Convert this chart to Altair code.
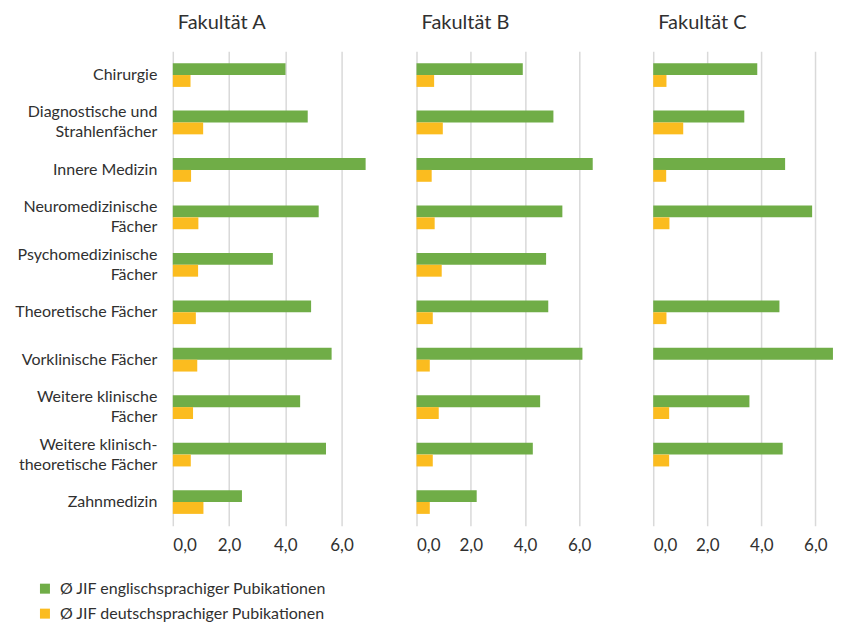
import altair as alt
import pandas as pd

categories = [
    "Chirurgie",
    "Diagnostische und\nStrahlenfächer",
    "Innere Medizin",
    "Neuromedizinische\nFächer",
    "Psychomedizinische\nFächer",
    "Theoretische Fächer",
    "Vorklinische Fächer",
    "Weitere klinische\nFächer",
    "Weitere klinisch-\ntheoretische Fächer",
    "Zahnmedizin",
]
series = ["Ø JIF englischsprachiger Pubikationen", "Ø JIF deutschsprachiger Pubikationen"]
faculties = ["Fakultät A", "Fakultät B", "Fakultät C"]

eng_A = [4.01, 4.80, 6.86, 5.19, 3.56, 4.92, 5.65, 4.53, 5.45, 2.46]
deu_A = [0.63, 1.08, 0.65, 0.91, 0.90, 0.82, 0.87, 0.72, 0.64, 1.09]
eng_B = [3.92, 5.05, 6.50, 5.38, 4.78, 4.86, 6.12, 4.56, 4.29, 2.22]
deu_B = [0.65, 0.97, 0.56, 0.67, 0.93, 0.60, 0.49, 0.82, 0.60, 0.49]
eng_C = [3.85, 3.37, 4.88, 5.88, None, 4.67, 6.65, 3.56, 4.79, None]
deu_C = [0.49, 1.11, 0.48, 0.60, None, 0.49, None, 0.59, 0.59, None]

colors = ["#70AD47", "#FBBC1F"]
FONT = "Lato"
TXT = "#303030"

rows = []
for fac, e, d in zip(faculties, [eng_A, eng_B, eng_C], [deu_A, deu_B, deu_C]):
    for cat, ev, dv in zip(categories, e, d):
        if ev is not None:
            rows.append({"faculty": fac, "category": cat, "series": series[0], "value": ev})
        if dv is not None:
            rows.append({"faculty": fac, "category": cat, "series": series[1], "value": dv})
df = pd.DataFrame(rows)


def panel(fac, width, dmax, show_y):
    yaxis = alt.Axis(
        title=None, domain=False, ticks=False, labelPadding=16,
        labelFont=FONT, labelFontSize=16, labelColor=TXT, labelLineHeight=20,
        labelExpr="split(datum.value, '\\n')", labelLimit=300,
        labelOffset=alt.condition("indexof(datum.value, '\\n') >= 0",
                                  alt.value(-10), alt.value(0)),
    ) if show_y else None
    return alt.Chart(df[df.faculty == fac], title=alt.TitleParams(
        fac, anchor="start", frame="group", dx=5, font=FONT, fontSize=20,
        fontWeight="normal", color=TXT, offset=18,
    )).mark_bar().encode(
        x=alt.X("value:Q",
                scale=alt.Scale(domain=[0, dmax], nice=False, zero=True),
                axis=alt.Axis(title=None, values=[0, 2, 4, 6], domain=False, ticks=False,
                              grid=True, gridColor="#D9D9D9", gridWidth=1.5,
                              labelFont=FONT, labelFontSize=17, labelColor=TXT,
                              labelPadding=12,
                              labelExpr="replace(format(datum.value, '.1f'), '.', ',')")),
        y=alt.Y("category:N", sort=categories,
                scale=alt.Scale(domain=categories, paddingInner=0.5, paddingOuter=0.25),
                axis=yaxis),
        yOffset=alt.YOffset("series:N", sort=series,
                            scale=alt.Scale(domain=series, paddingInner=0, paddingOuter=0)),
        color=alt.Color("series:N", sort=series,
                        scale=alt.Scale(domain=series, range=colors),
                        legend=alt.Legend(title=None)),
    ).properties(width=width, height=475)


chart = alt.hconcat(
    panel("Fakultät A", 197, 7, True),
    panel("Fakultät B", 190, 7, False),
    panel("Fakultät C", 184, 6.8, False),
    spacing=47,
).properties(
    padding={"left": 6, "top": 5, "right": 0, "bottom": 0},
).configure_view(stroke=None).configure_legend(
    orient="none", legendX=-136, legendY=530, direction="vertical",
    symbolType="square", symbolSize=100, symbolStrokeWidth=0,
    labelFont=FONT, labelFontSize=16, labelColor=TXT, labelOffset=7,
    rowPadding=9, labelLimit=400,
)

chart.save("out.html", embed_options={"renderer": "svg", "actions": False})
